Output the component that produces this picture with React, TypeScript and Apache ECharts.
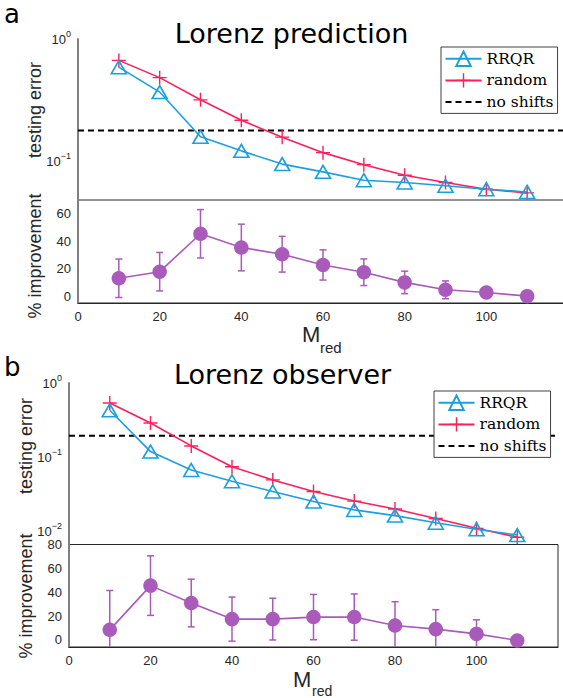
import React, { useEffect, useRef } from 'react';
import * as echarts from 'echarts';

// ---------------- data ----------------
const M = [10, 20, 30, 40, 50, 60, 70, 80, 90, 100, 110];
const xTicks = [0, 20, 40, 60, 80, 100];
const legendNames = ['RRQR', 'random', 'no shifts'];

// panel a: Lorenz prediction
const predRRQR = [0.59, 0.37, 0.16, 0.123, 0.096, 0.083, 0.071, 0.068, 0.064, 0.06, 0.057];
const predRandom = [0.67, 0.485, 0.32, 0.218, 0.159, 0.119, 0.095, 0.078, 0.068, 0.06, 0.056];
const predNoShift = 0.18;
const predImpMean = [13, 17.8, 45.4, 35.4, 30.5, 22.7, 17.4, 10, 4.6, 2.7, 0];
const predImpStd = [14, 14, 17.6, 17, 13, 11, 9.7, 8.2, 6.5, 2, 0];
const predImpTicks = [0, 20, 40, 60];

// panel b: Lorenz observer
const obsRRQR = [0.43, 0.12, 0.068, 0.048, 0.035, 0.0256, 0.0198, 0.0166, 0.0133, 0.0109, 0.0091];
const obsRandom = [0.54, 0.29, 0.143, 0.075, 0.05, 0.035, 0.026, 0.0204, 0.0152, 0.0112, 0.0085];
const obsNoShift = 0.196;
const obsImpMean = [8.4, 45.5, 30.9, 17.4, 17.4, 19.1, 19.1, 12, 9, 5, -0.5];
const obsImpStd = [33, 25, 20, 18.5, 17.5, 19, 19.4, 20, 16.3, 11.8, 0];
const obsImpTicks = [0, 20, 40, 60, 80];

const X_MIN = 0;
const X_MAX = 120;

// ---------------- style ----------------
const BLUE = '#1c9fe0';
const RED = '#ff1f5b';
const PURPLE = '#a95abb';
const TXT = '#262626';
const AXIS_GRAY = '#808080';
const SANS = 'Liberation Sans';
const TITLE_FONT = 'DejaVu Sans';
const SERIF = 'DejaVu Serif';
const CROSS = 'path://M9,0H11V9H20V11H11V20H9V11H0V9H9Z';

const pairs = (ys: number[]) => M.map((x, i) => [x, ys[i]]);

const logLabel = (v: number) => {
  const e = Math.log10(v);
  const r = Math.round(e);
  if (Math.abs(e - r) > 0.01) return '';
  return `{b|10}{s|${r < 0 ? '\u2212' + -r : r}}`;
};
const logRich = {
  b: { fontSize: 13, fontFamily: SANS, color: TXT, lineHeight: 20 },
  s: { fontSize: 9, fontFamily: SANS, color: TXT, lineHeight: 10, verticalAlign: 'top' },
};

const errRender = (params: any, api: any) => {
  const x = api.value(0);
  const m = api.value(1);
  const s = api.value(2);
  const hi = api.coord([x, m + s]);
  const lo = api.coord([x, m - s]);
  const cs = params.coordSys;
  const y0 = cs.y;
  const y1 = cs.y + cs.height;
  const topY = Math.max(hi[1], y0);
  const botY = Math.min(lo[1], y1);
  const style = { stroke: PURPLE, lineWidth: 1.5 };
  const children: any[] = [
    { type: 'line', shape: { x1: hi[0], y1: topY, x2: hi[0], y2: botY }, style },
  ];
  if (hi[1] >= y0)
    children.push({ type: 'line', shape: { x1: hi[0] - 3.5, y1: hi[1], x2: hi[0] + 3.5, y2: hi[1] }, style });
  if (lo[1] <= y1)
    children.push({ type: 'line', shape: { x1: lo[0] - 3.5, y1: lo[1], x2: lo[0] + 3.5, y2: lo[1] }, style });
  return { type: 'group', children };
};

const hiddenX = (gridIndex: number) => ({
  type: 'value',
  gridIndex,
  min: X_MIN,
  max: X_MAX,
  show: false,
});

const shownX = (gridIndex: number) => ({
  type: 'value',
  gridIndex,
  min: X_MIN,
  max: X_MAX,
  interval: 20,
  axisLine: { show: true, onZero: false, lineStyle: { color: TXT, width: 1 } },
  axisTick: { show: false },
  splitLine: { show: false },
  axisLabel: { customValues: xTicks, fontSize: 13, fontFamily: SANS, color: TXT, margin: 7 },
});

const logY = (gridIndex: number, min: number) => ({
  type: 'log',
  logBase: 10,
  gridIndex,
  min,
  max: 1,
  axisLine: { show: true, onZero: false, lineStyle: { color: AXIS_GRAY, width: 2 } },
  axisTick: { show: false },
  splitLine: { show: false },
  axisLabel: { formatter: logLabel, rich: logRich, showMinLabel: false, margin: 7 },
});

const impY = (gridIndex: number, min: number, max: number, ticks: number[]) => ({
  type: 'value',
  gridIndex,
  min,
  max,
  axisLine: { show: true, onZero: false, lineStyle: { color: AXIS_GRAY, width: 2 } },
  axisTick: { show: false },
  splitLine: { show: false },
  axisLabel: { customValues: ticks, fontSize: 13, fontFamily: SANS, color: TXT, margin: 7 },
});

const topSeries = (idx: number, rrqr: number[], rnd: number[], noShift: number) => [
  {
    name: 'no shifts',
    type: 'line',
    xAxisIndex: idx,
    yAxisIndex: idx,
    data: [[X_MIN, noShift], [X_MAX, noShift]],
    symbol: 'none',
    lineStyle: { color: '#000', width: 2, type: [6, 4] },
    itemStyle: { color: 'rgba(0,0,0,0)', borderWidth: 0 },
    z: 1,
  },
  {
    name: 'random',
    type: 'line',
    xAxisIndex: idx,
    yAxisIndex: idx,
    data: pairs(rnd),
    symbol: CROSS,
    symbolSize: 14,
    lineStyle: { color: RED, width: 1.6 },
    itemStyle: { color: RED },
    z: 3,
  },
  {
    name: 'RRQR',
    type: 'line',
    xAxisIndex: idx,
    yAxisIndex: idx,
    data: pairs(rrqr),
    symbol: 'triangle',
    symbolSize: [15, 13],
    lineStyle: { color: BLUE, width: 1.6 },
    itemStyle: { color: 'rgba(0,0,0,0)', borderColor: BLUE, borderWidth: 1.6 },
    z: 4,
  },
];

const impSeries = (idx: number, mean: number[], std: number[]) => [
  {
    type: 'custom',
    xAxisIndex: idx,
    yAxisIndex: idx,
    renderItem: errRender,
    data: M.map((x, i) => [x, mean[i], std[i]]),
    encode: { x: 0, y: 1 },
    silent: true,
    z: 2,
  },
  {
    type: 'line',
    xAxisIndex: idx,
    yAxisIndex: idx,
    data: pairs(mean),
    symbol: 'circle',
    symbolSize: 14.5,
    lineStyle: { color: PURPLE, width: 1.6 },
    itemStyle: { color: PURPLE },
    z: 4,
  },
];

const legendCfg = (left: number, top: number) => ({
  data: legendNames,
  orient: 'vertical',
  left,
  top,
  itemWidth: 36,
  itemHeight: 18,
  itemGap: 5.5,
  padding: [3.5, 4, 3.5, 3.5],
  backgroundColor: '#ffffff',
  borderColor: '#404040',
  borderWidth: 1,
  selectedMode: false,
  textStyle: { fontFamily: SERIF, fontSize: 15.5, color: '#000' },
  z: 10,
});

const txt = (text: string, x: number, y: number, fontSize: number, fontFamily: string, extra: any = {}) => ({
  type: 'text',
  x,
  y,
  ...extra,
  style: {
    text,
    fontSize,
    fontFamily,
    fill: extra.fill || '#000',
    align: extra.align || 'left',
    verticalAlign: 'middle',
  },
});

const gridBase = { outerBoundsMode: 'none', containLabel: false };

export default function App() {
  const ref = useRef<HTMLDivElement>(null);
  useEffect(() => {
    if (!ref.current) return;
    const chart = echarts.init(ref.current, undefined, { renderer: 'svg' });
    const option: any = {
      animation: false,
      backgroundColor: '#ffffff',
      grid: [
        { ...gridBase, left: 78, top: 39, width: 490, height: 161 },
        { ...gridBase, left: 78, top: 200, width: 490, height: 103, show: true, borderColor: TXT, borderWidth: 1 },
        { ...gridBase, left: 69, top: 383, width: 489, height: 161 },
        { ...gridBase, left: 69, top: 544.5, width: 489, height: 102.5, show: true, borderColor: TXT, borderWidth: 1 },
      ],
      xAxis: [hiddenX(0), shownX(1), hiddenX(2), shownX(3)],
      yAxis: [
        logY(0, 0.049),
        impY(1, -5, 70, predImpTicks),
        logY(2, 0.0069),
        impY(3, -6, 80, obsImpTicks),
      ],
      legend: [legendCfg(441, 47), legendCfg(434, 391)],
      series: [
        ...topSeries(0, predRRQR, predRandom, predNoShift),
        ...impSeries(1, predImpMean, predImpStd),
        ...topSeries(2, obsRRQR, obsRandom, obsNoShift),
        ...impSeries(3, obsImpMean, obsImpStd),
      ],
      graphic: [
        txt('a', 4, 13.5, 26, TITLE_FONT),
        txt('b', 4, 367, 26, TITLE_FONT),
        txt('Lorenz prediction', 291.5, 33.6, 27, TITLE_FONT, { align: 'center' }),
        txt('Lorenz observer', 282.5, 374.6, 27, TITLE_FONT, { align: 'center' }),
        txt('testing error', 34.5, 110, 18, SANS, { align: 'center', rotation: Math.PI / 2, fill: TXT }),
        txt('% improvement', 34.5, 256, 18, SANS, { align: 'center', rotation: Math.PI / 2, fill: TXT }),
        txt('testing error', 25.5, 446, 18, SANS, { align: 'center', rotation: Math.PI / 2, fill: TXT }),
        txt('% improvement', 25.5, 596, 18, SANS, { align: 'center', rotation: Math.PI / 2, fill: TXT }),
        txt('M', 302, 334.2, 22, SANS, { fill: TXT }),
        txt('red', 320, 347.3, 15, SANS, { fill: TXT }),
        txt('M', 293, 679.5, 22, SANS, { fill: TXT }),
        txt('red', 312, 690.5, 14, SANS, { fill: TXT }),
      ],
    };
    chart.setOption(option);
    return () => chart.dispose();
  }, []);
  return (
    <div
      ref={ref}
      style={{ position: 'fixed', left: 0, top: 0, width: 563, height: 698, background: '#fff' }}
    />
  );
}
